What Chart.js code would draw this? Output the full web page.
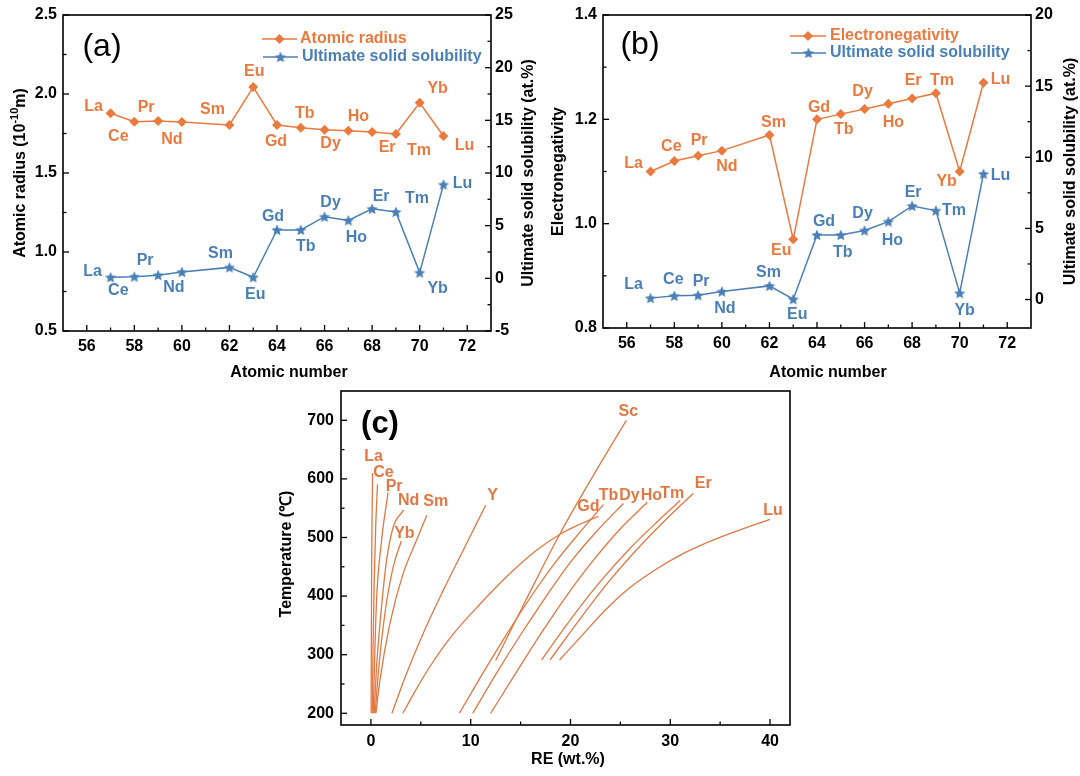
<!DOCTYPE html>
<html>
<head>
<meta charset="utf-8">
<title>Rare earth elements in Mg</title>
<script src="https://cdn.jsdelivr.net/npm/chart.js"></script>
<style>
  body { margin: 0; background: #fff; }
  #wrap { position: relative; width: 1080px; height: 776px; background: #fff; }
  canvas { position: absolute; }
</style>
</head>
<body>
<div id="wrap">
  <canvas id="chartA" width="540" height="390" style="left:0;top:0"></canvas>
  <canvas id="chartB" width="540" height="390" style="left:540px;top:0"></canvas>
  <canvas id="chartC" width="540" height="406" style="left:270px;top:370px"></canvas>
</div>
<script>
// ---- data, panels (a) and (b) ----
const elements = ['La','Ce','Pr','Nd','Sm','Eu','Gd','Tb','Dy','Ho','Er','Tm','Yb','Lu'];
const atomicNumbers = [57, 58, 59, 60, 62, 63, 64, 65, 66, 67, 68, 69, 70, 71];
const atomicRadius = [1.878, 1.825, 1.829, 1.823, 1.804, 2.044, 1.804, 1.787, 1.774, 1.768, 1.760, 1.747, 1.945, 1.734];
const solubilityA = [0.1, 0.16, 0.3, 0.6, 1.04, 0.1, 4.6, 4.6, 5.85, 5.5, 6.6, 6.3, 0.54, 8.9];
const electronegativity = [1.10, 1.12, 1.13, 1.14, 1.17, 0.97, 1.20, 1.21, 1.22, 1.23, 1.24, 1.25, 1.10, 1.27];
const solubilityB = [0.1, 0.26, 0.3, 0.56, 0.96, 0.02, 4.54, 4.54, 4.85, 5.48, 6.58, 6.25, 0.45, 8.83];

const atomicTicks = [56, 58, 60, 62, 64, 66, 68, 70, 72];
const radiusTicks = [0.5, 1.0, 1.5, 2.0, 2.5];
const solTicksA = [-5, 0, 5, 10, 15, 20, 25];
const enTicks = [0.8, 1.0, 1.2, 1.4];
const solTicksB = [0, 5, 10, 15, 20];

// ---- data, panel (c): solvus curves [wt.%, temperature] ----
const curveNames = ['La','Ce','Pr','Nd','Yb','Sm','Y','Gd','Sc','Tb','Dy','Ho','Tm','Er','Lu'];
const laCurve = [[0.02,200],[0.04,320],[0.07,430],[0.11,530],[0.17,610]];
const ceCurve = [[0.13,200],[0.2,300],[0.32,420],[0.48,520],[0.66,591]];
const prCurve = [[0.23,200],[0.33,267],[0.56,392],[1.06,494],[1.72,577]];
const ndCurve = [[0.33,200],[0.56,278],[1.06,381],[1.56,460],[2.22,517],[3.28,547]];
const ybCurve = [[0.43,200],[0.73,267],[1.39,369],[2.22,449],[3.05,494]];
const smCurve = [[0.5,200],[0.9,256],[1.89,352],[3.2,437],[4.54,494],[5.6,538]];
const yCurve = [[2.1,200],[3.5,265],[5.2,335],[7.2,408],[9.3,480],[11.5,555]];
const gdCurve = [[3.2,200],[4.5,240],[6,282],[8,330],[10.8,384],[13.9,438],[16.5,477],[19,506],[21,523],[22.8,536]];
const scCurve = [[12.5,290],[15.5,392],[19,508],[22.5,612],[25.6,700]];
const tbCurve = [[8.86,200],[11,262],[13.5,332],[16,398],[18.5,458],[21,510],[23.3,556]];
const dyCurve = [[10.2,200],[12.5,266],[15,334],[17.5,398],[20,458],[22.7,512],[25.3,558]];
const hoCurve = [[12.0,200],[14.5,268],[17,335],[19.5,398],[22,455],[25,515],[27.7,560]];
const tmCurve = [[17.1,291],[20,360],[23,425],[26,482],[28.7,527],[31.0,563]];
const erCurve = [[17.95,291],[21,362],[24,428],[27,486],[30,538],[32.3,575]];
const luCurve = [[18.9,291],[21,330],[23.6,378],[26,415],[28.5,445],[31,470],[33.5,490],[36.5,510],[40,531]];
const curves = [laCurve, ceCurve, prCurve, ndCurve, ybCurve, smCurve, yCurve, gdCurve, scCurve,
                tbCurve, dyCurve, hoCurve, tmCurve, erCurve, luCurve];
const tempTicks = [200, 300, 400, 500, 600, 700];
const reTicks = [0, 10, 20, 30, 40];

// ---- label placement (pixel offsets from the marker / curve end) ----
const radiusLabelOff = [[-17,-7],[-16,15],[-12,-13],[-10,18],[-17,-15],[1,-15],[-1,17],[4,-14],[6,14],[10,-14],[15,16],[23,17],[18,-14],[21,10]];
const solLabelOffA = [[-18,-6],[-16,14],[-13,-15],[-8,16],[-9,-14],[2,17],[-4,-13],[5,17],[6,-14],[8,17],[9,-12],[21,-13],[18,16],[19,-1]];
const enLabelOff = [[-17,-8],[-3,-14],[1,-15],[5,16],[4,-12],[-12,11],[2,-12],[3,15],[-2,-17],[5,19],[1,-18],[6,-13],[-13,10],[17,-3]];
const solLabelOffB = [[-17,-14],[-1,-16],[3,-14],[3,17],[-1,-13],[4,15],[7,-13],[2,18],[-2,-17],[4,19],[1,-13],[18,0],[5,17],[17,2]];
const curveLabelOff = [[1,-16],[6,-12],[6,-6],[5,-9],[3,-7],[9,-14],[7,-10],[-10,-10],[2,-9],[5,-9],[6,-8],[4,-7],[-8,-7],[10,-10],[3,-9]];

const FONT = '"Liberation Sans", Arial, sans-serif';
const ORANGE = '#EB7A3E';
const BLUE = '#4A80B7';
const CURVE = '#E27843';

function starImage(color, r) {
  const c = document.createElement('canvas');
  const s = Math.ceil(r * 2 + 2);
  c.width = s; c.height = s;
  const g = c.getContext('2d');
  g.fillStyle = color;
  g.beginPath();
  for (let i = 0; i < 10; i++) {
    const rad = i % 2 ? r * 0.45 : r;
    const a = -Math.PI / 2 + i * Math.PI / 5;
    g.lineTo(s / 2 + rad * Math.cos(a), s / 2 + rad * Math.sin(a) + 0.5);
  }
  g.closePath();
  g.fill();
  return c;
}
const blueStar = starImage(BLUE, 6);

function axis(position, min, max, ticks, size, pad, fmt) {
  return {
    type: 'linear', position, min, max,
    grid: { display: false, drawTicks: false },
    border: { display: false },
    ticks: {
      font: { family: FONT, size: 16, weight: 'bold' }, color: '#000',
      padding: pad, maxRotation: 0, autoSkip: false,
      callback: fmt || (v => String(v))
    },
    afterBuildTicks: s => { s.ticks = ticks.map(v => ({ value: v })); },
    afterFit: s => {
      if (s.isHorizontal()) s.height = size; else s.width = size;
      s.paddingTop = s.paddingBottom = s.paddingLeft = s.paddingRight = 0;
    }
  };
}

function drawTickMarks(ctx, sc, area, vals, len, side) {
  vals.forEach(v => {
    const p = sc.getPixelForValue(v);
    ctx.beginPath();
    if (side === 'bottom') { ctx.moveTo(p, area.bottom); ctx.lineTo(p, area.bottom - len); }
    else if (side === 'left') { ctx.moveTo(area.left, p); ctx.lineTo(area.left + len, p); }
    else { ctx.moveTo(area.right, p); ctx.lineTo(area.right - len, p); }
    ctx.stroke();
  });
}

function drawTitle(ctx, t, area) {
  const y = t.y === 'mid' ? (area.top + area.bottom) / 2 : t.y;
  ctx.save();
  ctx.translate(t.x, y);
  ctx.rotate(t.rot || 0);
  ctx.fillStyle = '#000';
  ctx.textBaseline = 'middle';
  ctx.textAlign = 'left';
  let total = 0;
  t.parts.forEach(p => { ctx.font = 'bold ' + p[1] + 'px ' + FONT; total += ctx.measureText(p[0]).width; });
  let x = -total / 2;
  t.parts.forEach(p => {
    ctx.font = 'bold ' + p[1] + 'px ' + FONT;
    ctx.fillText(p[0], x, p[2]);
    x += ctx.measureText(p[0]).width;
  });
  ctx.restore();
}

function decor(cfg) {
  return {
    id: 'decor',
    afterDatasetsDraw(chart) {
      const ctx = chart.ctx, area = chart.chartArea;
      ctx.save();
      ctx.strokeStyle = '#000';
      ctx.lineWidth = 1.6;
      ctx.strokeRect(area.left, area.top, area.right - area.left, area.bottom - area.top);
      ctx.lineWidth = 1.3;
      cfg.ticks.forEach(t => {
        const sc = chart.scales[t.id];
        const minor = t.values.slice(1).map((v, i) => (v + t.values[i]) / 2);
        drawTickMarks(ctx, sc, area, t.values, 6, t.side);
        drawTickMarks(ctx, sc, area, minor, 3.5, t.side);
      });

      ctx.font = 'bold 16px ' + FONT;
      ctx.textAlign = 'center';
      ctx.textBaseline = 'middle';
      (cfg.pointLabels || []).forEach(pl => {
        ctx.fillStyle = pl.color;
        chart.getDatasetMeta(pl.dataset).data.forEach((el, i) => {
          ctx.fillText(elements[i], el.x + pl.offsets[i][0], el.y + pl.offsets[i][1]);
        });
      });
      if (cfg.curveLabels) {
        ctx.fillStyle = CURVE;
        curveNames.forEach((name, i) => {
          const pts = chart.getDatasetMeta(i).data;
          const el = pts[pts.length - 1];
          ctx.fillText(name, el.x + curveLabelOff[i][0], el.y + curveLabelOff[i][1]);
        });
      }

      (cfg.legend || []).forEach(lg => {
        ctx.strokeStyle = lg.color;
        ctx.lineWidth = 1.5;
        ctx.beginPath(); ctx.moveTo(lg.x1, lg.y); ctx.lineTo(lg.x2, lg.y); ctx.stroke();
        const cx = (lg.x1 + lg.x2) / 2;
        if (lg.marker === 'diamond') {
          ctx.fillStyle = lg.color;
          ctx.beginPath();
          ctx.moveTo(cx, lg.y - 5); ctx.lineTo(cx + 5, lg.y); ctx.lineTo(cx, lg.y + 5); ctx.lineTo(cx - 5, lg.y);
          ctx.closePath(); ctx.fill();
        } else {
          ctx.drawImage(blueStar, cx - blueStar.width / 2, lg.y - blueStar.height / 2);
        }
        ctx.fillStyle = lg.color;
        ctx.textAlign = 'left';
        ctx.fillText(lg.text, lg.tx, lg.y);
      });

      cfg.titles.forEach(t => drawTitle(ctx, t, area));

      ctx.fillStyle = '#000';
      ctx.textAlign = 'center';
      ctx.textBaseline = 'middle';
      ctx.font = cfg.panel.font;
      ctx.fillText(cfg.panel.text, cfg.panel.x, cfg.panel.y);
      ctx.restore();
    }
  };
}

const baseOptions = {
  responsive: false,
  animation: false,
  devicePixelRatio: 1,
  events: [],
  plugins: { legend: { display: false }, tooltip: { enabled: false } }
};

function pairs(ys) { return atomicNumbers.map((z, i) => ({ x: z, y: ys[i] })); }

// ---- (a) ----
new Chart(document.getElementById('chartA'), {
  type: 'scatter',
  data: {
    datasets: [
      { label: 'Atomic radius', data: pairs(atomicRadius), yAxisID: 'y', showLine: true,
        borderColor: ORANGE, backgroundColor: ORANGE, borderWidth: 1.5,
        pointStyle: 'rectRot', pointRadius: 5, pointBorderWidth: 0 },
      { label: 'Ultimate solid solubility', data: pairs(solubilityA), yAxisID: 'y2', showLine: true,
        borderColor: BLUE, backgroundColor: BLUE, borderWidth: 1.5,
        pointStyle: blueStar, pointRadius: 6 }
    ]
  },
  options: Object.assign({}, baseOptions, {
    layout: { padding: { top: 15 } },
    scales: {
      x: axis('bottom', 55, 73, atomicTicks, 59, 6),
      y: axis('left', 0.5, 2.5, radiusTicks, 63, 6, v => v.toFixed(1)),
      y2: axis('right', -5, 25, solTicksA, 49, 4)
    }
  }),
  plugins: [decor({
    ticks: [{ id: 'x', values: atomicTicks, side: 'bottom' },
            { id: 'y', values: radiusTicks, side: 'left' },
            { id: 'y2', values: solTicksA, side: 'right' }],
    pointLabels: [{ dataset: 0, color: ORANGE, offsets: radiusLabelOff },
                  { dataset: 1, color: BLUE, offsets: solLabelOffA }],
    legend: [{ x1: 262, x2: 297, y: 39, color: ORANGE, marker: 'diamond', text: 'Atomic radius', tx: 300 },
             { x1: 263, x2: 298, y: 57, color: BLUE, marker: 'star', text: 'Ultimate solid solubility', tx: 302 }],
    titles: [{ x: 21, y: 'mid', rot: -Math.PI / 2, parts: [['Atomic radius (10', 16, 0], ['-10', 11, -6], ['m)', 16, 0]] },
             { x: 529, y: 'mid', rot: -Math.PI / 2, parts: [['Ultimate solid solubility (at.%)', 16, 0]] },
             { x: 289, y: 373, parts: [['Atomic number', 16, 0]] }],
    panel: { text: '(a)', x: 102, y: 47, font: '32px ' + FONT }
  })]
});

// ---- (b) ----
new Chart(document.getElementById('chartB'), {
  type: 'scatter',
  data: {
    datasets: [
      { label: 'Electronegativity', data: pairs(electronegativity), yAxisID: 'y', showLine: true,
        borderColor: ORANGE, backgroundColor: ORANGE, borderWidth: 1.5,
        pointStyle: 'rectRot', pointRadius: 5, pointBorderWidth: 0 },
      { label: 'Ultimate solid solubility', data: pairs(solubilityB), yAxisID: 'y2', showLine: true,
        borderColor: BLUE, backgroundColor: BLUE, borderWidth: 1.5,
        pointStyle: blueStar, pointRadius: 6 }
    ]
  },
  options: Object.assign({}, baseOptions, {
    layout: { padding: { top: 15 } },
    scales: {
      x: axis('bottom', 55, 73, atomicTicks, 62, 6),
      y: axis('left', 0.8, 1.4, enTicks, 63, 6, v => v.toFixed(1)),
      y2: axis('right', -2, 20, solTicksB, 49, 4)
    }
  }),
  plugins: [decor({
    ticks: [{ id: 'x', values: atomicTicks, side: 'bottom' },
            { id: 'y', values: enTicks, side: 'left' },
            { id: 'y2', values: solTicksB, side: 'right' }],
    pointLabels: [{ dataset: 0, color: ORANGE, offsets: enLabelOff },
                  { dataset: 1, color: BLUE, offsets: solLabelOffB }],
    legend: [{ x1: 250, x2: 286, y: 36, color: ORANGE, marker: 'diamond', text: 'Electronegativity', tx: 290 },
             { x1: 251, x2: 286, y: 53, color: BLUE, marker: 'star', text: 'Ultimate solid solubility', tx: 290 }],
    titles: [{ x: 19, y: 'mid', rot: -Math.PI / 2, parts: [['Electronegativity', 16, 0]] },
             { x: 531, y: 'mid', rot: -Math.PI / 2, parts: [['Ultimate solid solubility (at.%)', 16, 0]] },
             { x: 288, y: 373, parts: [['Atomic number', 16, 0]] }],
    panel: { text: '(b)', x: 100, y: 45, font: '32px ' + FONT }
  })]
});

// ---- (c) ----
new Chart(document.getElementById('chartC'), {
  type: 'scatter',
  data: {
    datasets: curves.map((c, i) => ({
      label: curveNames[i],
      data: c.map(p => ({ x: p[0], y: p[1] })),
      showLine: true, borderColor: CURVE, borderWidth: 1.3,
      pointRadius: 0, cubicInterpolationMode: 'monotone'
    }))
  },
  options: Object.assign({}, baseOptions, {
    layout: { padding: { top: 21, right: 20 } },
    scales: {
      x: axis('bottom', -3, 42, reTicks, 51, 7),
      y: axis('left', 180, 750, tempTicks, 71, 7)
    }
  }),
  plugins: [decor({
    ticks: [{ id: 'x', values: reTicks, side: 'bottom' },
            { id: 'y', values: tempTicks, side: 'left' }],
    curveLabels: true,
    titles: [{ x: 17, y: 184, rot: -Math.PI / 2, parts: [['Temperature (\u2103)', 16, 0]] },
             { x: 298, y: 390, parts: [['RE (wt.%)', 16, 0]] }],
    panel: { text: '(c)', x: 110, y: 54, font: 'bold 31px ' + FONT }
  })]
});
</script>
</body>
</html>
